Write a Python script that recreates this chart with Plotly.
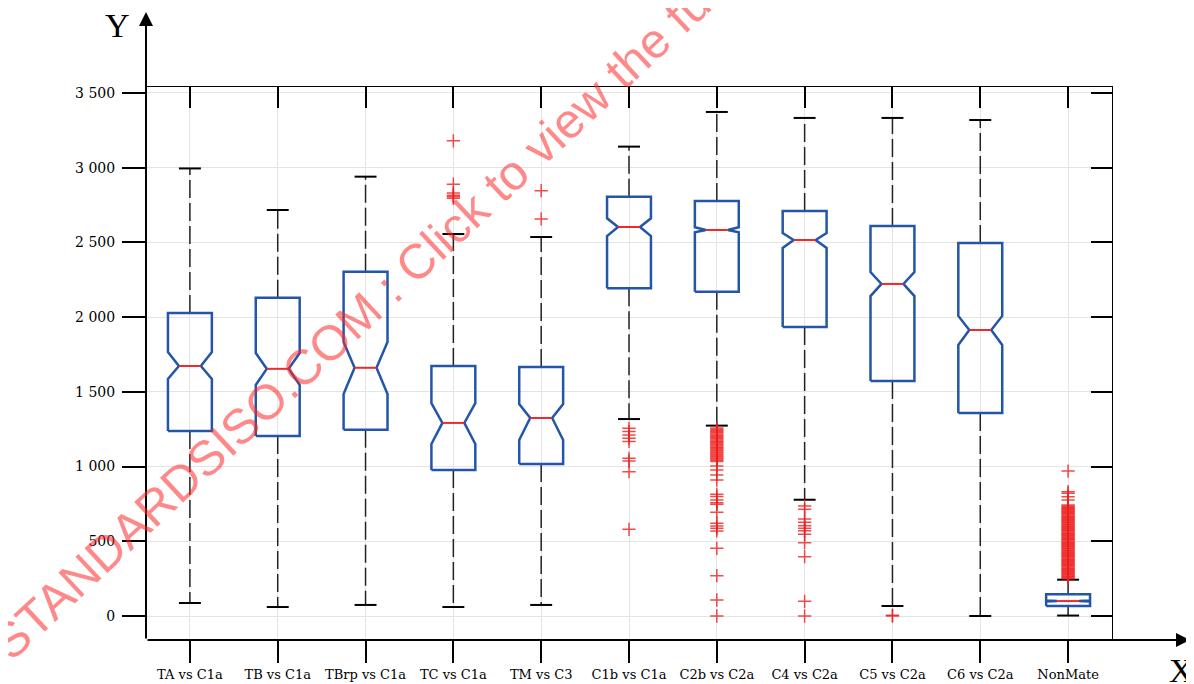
import plotly.graph_objects as go

# ---------------- data ----------------
categories = ["TA vs C1a", "TB vs C1a", "TBrp vs C1a", "TC vs C1a", "TM vs C3",
              "C1b vs C1a", "C2b vs C2a", "C4 vs C2a", "C5 vs C2a", "C6 vs C2a", "NonMate"]
upper_whisker = [2995, 2717, 2940, 2556, 2536, 3141, 3373, 3333, 3333, 3319, 243]
q3            = [2028, 2130, 2304, 1673, 1666, 2806, 2777, 2710, 2610, 2496, 145]
notch_hi      = [1767, 1760, 1834, 1425, 1419, 2661, 2601, 2563, 2302, 2008, 103]
median        = [1673, 1654, 1661, 1292, 1325, 2603, 2583, 2516, 2222, 1914, 100]
notch_lo      = [1587, 1546, 1486, 1151, 1178, 2543, 2568, 2463, 2141, 1814, 97]
q1            = [1238, 1205, 1247, 977, 1017, 2193, 2170, 1934, 1573, 1358, 67]
lower_whisker = [87, 60, 74, 60, 74, 1318, 1274, 778, 67, 0, 3]

out_TC = [3180, 2890, 2830, 2815, 2805, 2795]
out_TM = [2846, 2657]
out_C1b = [1256, 1234, 1212, 1190, 1168, 1055, 1037, 966, 580]
out_C2b = [1258, 1250, 1242, 1234, 1226, 1218, 1210, 1202, 1194, 1186, 1178, 1170,
           1162, 1154, 1146, 1138, 1130, 1122, 1114, 1106, 1098, 1090, 1082, 1074,
           1066, 1058, 1050, 1042, 1034, 1004, 977, 944, 910, 814, 799, 776, 758,
           747, 694, 621, 602, 587, 569, 453, 270, 107, 0]
out_C4 = [736, 714, 649, 627, 604, 587, 571, 547, 491, 397, 98, 0]
out_C5 = [5, 0]
out_NonMate = [250, 256, 262, 268, 274, 280, 286, 292, 298, 304, 310, 316, 322, 328,
               334, 340, 346, 352, 358, 364, 370, 376, 382, 388, 394, 400, 406, 412,
               418, 424, 430, 436, 442, 448, 454, 460, 466, 472, 478, 484, 490, 496,
               502, 508, 514, 520, 526, 532, 538, 544, 550, 556, 562, 568, 574, 580,
               586, 592, 598, 604, 610, 616, 622, 628, 634, 640, 646, 652, 658, 664,
               670, 676, 682, 688, 694, 700, 706, 712, 718, 724, 730, 736, 743, 776,
               798, 821, 832, 970]
outliers = [[], [], [], out_TC, out_TM, out_C1b, out_C2b, out_C4, out_C5, [], out_NonMate]

y_tickvals = [0, 500, 1000, 1500, 2000, 2500, 3000, 3500]
y_ticktext = ["0", "500", "1 000", "1 500", "2 000", "2 500", "3 000", "3 500"]

watermark = "STANDARDSISO.COM : Click to view the full PDF"

# ---------------- style ----------------
BOX_HW = 0.25
NOTCH_HW = 0.125
CAP_HW = 0.125
BLUE = "#2356a8"
RED = "#ee2a2a"
SERIF = "Liberation Serif"
TICKFONT = "DejaVu Serif"

pos = list(range(len(categories)))

# build geometry from data
bx, by = [], []
mx, my = [], []
wx, wy = [], []
cx, cy = [], []
ox, oy = [], []
for i, p in enumerate(pos):
    bx += [p - BOX_HW, p - BOX_HW, p - NOTCH_HW, p - BOX_HW, p - BOX_HW,
           p + BOX_HW, p + BOX_HW, p + NOTCH_HW, p + BOX_HW, p + BOX_HW, p - BOX_HW, None]
    by += [q1[i], notch_lo[i], median[i], notch_hi[i], q3[i],
           q3[i], notch_hi[i], median[i], notch_lo[i], q1[i], q1[i], None]
    mx += [p - NOTCH_HW, p + NOTCH_HW, None]
    my += [median[i], median[i], None]
    wx += [p, p, None, p, p, None]
    wy += [q3[i], upper_whisker[i], None, q1[i], lower_whisker[i], None]
    cx += [p - CAP_HW, p + CAP_HW, None, p - CAP_HW, p + CAP_HW, None]
    cy += [upper_whisker[i], upper_whisker[i], None, lower_whisker[i], lower_whisker[i], None]
    for v in outliers[i]:
        ox.append(p)
        oy.append(v)

fig = go.Figure()
fig.add_trace(go.Scatter(x=wx, y=wy, mode="lines", hoverinfo="skip",
                         line=dict(color="#222222", width=1.5, dash="18px,5px")))
fig.add_trace(go.Scatter(x=cx, y=cy, mode="lines", hoverinfo="skip",
                         line=dict(color="black", width=2)))
fig.add_trace(go.Scatter(x=bx, y=by, mode="lines", hoverinfo="skip",
                         line=dict(color=BLUE, width=2.5)))
fig.add_trace(go.Scatter(x=mx, y=my, mode="lines", hoverinfo="skip",
                         line=dict(color=RED, width=2)))
fig.add_trace(go.Scatter(x=ox, y=oy, mode="markers", hoverinfo="skip",
                         marker=dict(symbol="cross-thin", size=9.5,
                                     line=dict(color="rgba(238,30,30,0.8)", width=1.5))))
# dummy trace for the mirrored (top / right) axes
fig.add_trace(go.Scatter(x=[None], y=[None], xaxis="x2", yaxis="y2", hoverinfo="skip"))

xr = [-0.5, 10.5]
yr = [-160.6, 3540]

# the page body adds an 8px margin, so the figure is 8px smaller and shifted
fig.update_layout(
    width=1186, height=676,
    margin=dict(l=138, r=82, t=79, b=44, pad=0, autoexpand=False),
    paper_bgcolor="white", plot_bgcolor="white",
    showlegend=False,
    xaxis=dict(range=xr, tickvals=pos, ticktext=categories, ticks="outside",
               ticklen=22, tickwidth=2, tickcolor="black", showgrid=True,
               gridcolor="#e4e4e4", gridwidth=1, zeroline=False, showline=False,
               automargin=False,
               tickfont=dict(family=TICKFONT, size=13, color="black")),
    yaxis=dict(range=yr, tickvals=y_tickvals, ticktext=y_ticktext, ticks="outside",
               ticklen=23, tickwidth=2, tickcolor="black", showgrid=True,
               gridcolor="#e4e4e4", gridwidth=1, zeroline=False, showline=False,
               automargin=False, ticklabelstandoff=4,
               tickfont=dict(family=TICKFONT, size=14, color="black")),
    xaxis2=dict(range=xr, overlaying="x", side="top", tickvals=pos, ticks="inside",
                ticklen=21, tickwidth=2, tickcolor="black", showticklabels=False,
                showgrid=False, zeroline=False, showline=True, linecolor="black",
                linewidth=1.3, automargin=False),
    yaxis2=dict(range=yr, overlaying="y", side="right", tickvals=y_tickvals,
                ticks="inside", ticklen=21, tickwidth=2, tickcolor="black",
                showticklabels=False, showgrid=False, zeroline=False, showline=True,
                linecolor="black", linewidth=1.3, automargin=False),
)

W, H = 966, 553
# axis arrows
fig.add_annotation(x=0, y=(640 - 12) / H, xref="paper", yref="paper", ax=0, ay=628,
                   axref="pixel", ayref="pixel", text="", showarrow=True,
                   arrowhead=2, arrowsize=1.4, arrowwidth=2, arrowcolor="black")
fig.add_annotation(x=(1190 - 146) / W, y=0, xref="paper", yref="paper", ax=-1044, ay=0,
                   axref="pixel", ayref="pixel", text="", showarrow=True,
                   arrowhead=2, arrowsize=1.4, arrowwidth=2, arrowcolor="black")
# axis letters
fig.add_annotation(x=(117 - 146) / W, y=(640 - 25) / H, xref="paper", yref="paper",
                   xanchor="center", yanchor="middle",
                   text="Y", showarrow=False, font=dict(family=SERIF, size=34, color="black"))
fig.add_annotation(x=(1181 - 146) / W, y=(640 - 670) / H, xref="paper", yref="paper",
                   xanchor="center", yanchor="middle",
                   text="X", showarrow=False, font=dict(family=SERIF, size=34, color="black"))
# watermark
fig.add_annotation(x=(400 - 146) / W, y=(640 - 277) / H, xref="paper", yref="paper",
                   xanchor="center", yanchor="middle",
                   text=watermark, showarrow=False, textangle=-43,
                   font=dict(family="Liberation Sans", size=49, color="rgba(255,40,40,0.55)"))

fig.write_html("out.html")
